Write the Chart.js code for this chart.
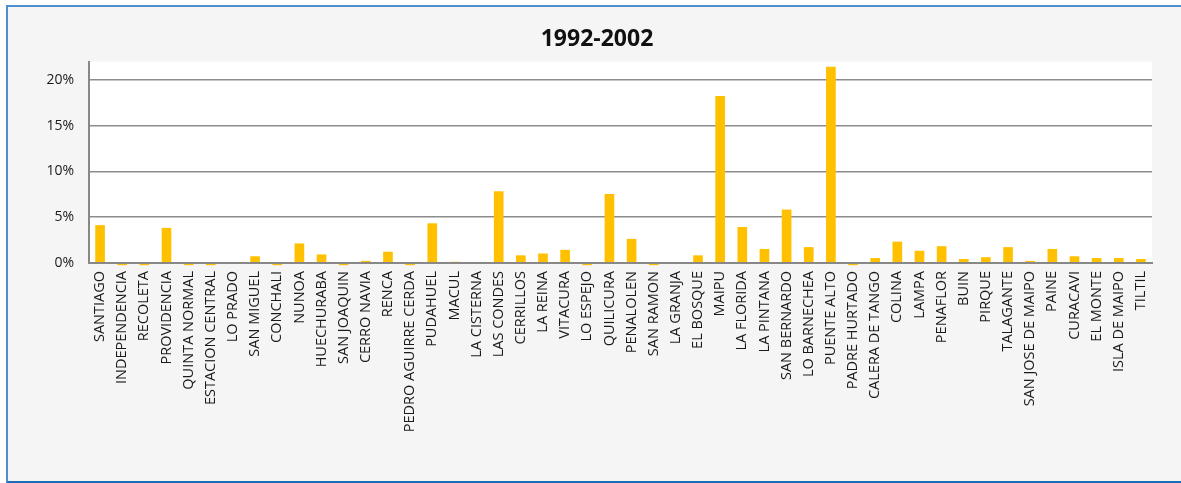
<!DOCTYPE html>
<html>
<head>
<meta charset="utf-8">
<script src="https://cdn.jsdelivr.net/npm/chart.js@4"></script>
<style>
  html, body { margin: 0; padding: 0; background: #ffffff; overflow: hidden; }
  #frame {
    position: absolute; left: 6px; top: 5px;
    width: 1180px; height: 474px;
    border-left: 2px solid #4d8fcd;
    border-top: 2px solid #4d8fcd;
    border-bottom: 3px solid #1a6db8;
    background: #f5f5f5;
  }
  #growth { position: absolute; left: 0; top: 0; }
</style>
</head>
<body>
<div id="frame"></div>
<canvas id="growth" width="1181" height="483"></canvas>
<script>
var comunas = [
  'SANTIAGO', 'INDEPENDENCIA', 'RECOLETA', 'PROVIDENCIA', 'QUINTA NORMAL',
  'ESTACION CENTRAL', 'LO PRADO', 'SAN MIGUEL', 'CONCHALI', 'NUNOA',
  'HUECHURABA', 'SAN JOAQUIN', 'CERRO NAVIA', 'RENCA', 'PEDRO AGUIRRE CERDA',
  'PUDAHUEL', 'MACUL', 'LA CISTERNA', 'LAS CONDES', 'CERRILLOS',
  'LA REINA', 'VITACURA', 'LO ESPEJO', 'QUILICURA', 'PENALOLEN',
  'SAN RAMON', 'LA GRANJA', 'EL BOSQUE', 'MAIPU', 'LA FLORIDA',
  'LA PINTANA', 'SAN BERNARDO', 'LO BARNECHEA', 'PUENTE ALTO', 'PADRE HURTADO',
  'CALERA DE TANGO', 'COLINA', 'LAMPA', 'PENAFLOR', 'BUIN',
  'PIRQUE', 'TALAGANTE', 'SAN JOSE DE MAIPO', 'PAINE', 'CURACAVI',
  'EL MONTE', 'ISLA DE MAIPO', 'TILTIL'
];

// share of growth per comuna, in percent
var share = [
  4.1, -0.2, -0.2, 3.8, -0.2,
  -0.2, 0.0, 0.7, -0.2, 2.1,
  0.9, -0.2, 0.2, 1.2, -0.2,
  4.3, 0.1, 0.0, 7.8, 0.8,
  1.0, 1.4, -0.2, 7.5, 2.6,
  -0.2, 0.0, 0.8, 18.2, 3.9,
  1.5, 5.8, 1.7, 21.4, -0.2,
  0.5, 2.3, 1.3, 1.8, 0.4,
  0.6, 1.7, 0.2, 1.5, 0.7,
  0.5, 0.5, 0.4
];

var yTicks = [0, 5, 10, 15, 20];

// white plot background
var plotBg = {
  id: 'plotBg',
  beforeDraw: function (chart) {
    var a = chart.chartArea, ctx = chart.ctx;
    ctx.save();
    ctx.fillStyle = '#ffffff';
    ctx.fillRect(a.left, a.top, a.right - a.left, a.bottom - a.top);
    ctx.restore();
  }
};

new Chart(document.getElementById('growth'), {
  type: 'bar',
  data: {
    labels: comunas,
    datasets: [{
      data: share,
      backgroundColor: '#ffc000',
      barThickness: 9,
      clip: false
    }]
  },
  options: {
    responsive: false,
    animation: false,
    layout: { padding: { left: 42, right: 29, top: 0, bottom: 0 } },
    plugins: {
      legend: { display: false },
      tooltip: { enabled: false },
      title: {
        display: true,
        text: '1992-2002',
        color: '#111111',
        font: { family: 'Open Sans', size: 23, weight: 'bold' },
        padding: { top: 26, bottom: 8 }
      }
    },
    scales: {
      x: {
        afterFit: function (s) { s.height = 220; },
        grid: { display: false, drawTicks: false },
        border: { display: true, color: '#888888', width: 2, z: 1 },
        ticks: {
          autoSkip: false,
          minRotation: 90,
          maxRotation: 90,
          padding: 8,
          color: '#1a1a1a',
          font: { family: 'Open Sans', size: 14.5 }
        }
      },
      y: {
        min: 0,
        max: 22,
        afterFit: function (s) { s.width = 47; },
        afterBuildTicks: function (s) {
          s.ticks = yTicks.map(function (v) { return { value: v }; });
        },
        grid: { color: '#8c8c8c', lineWidth: 1.5, drawTicks: false },
        border: { display: true, color: '#888888', width: 2, z: 1 },
        ticks: {
          padding: 15,
          color: '#1a1a1a',
          font: { family: 'Open Sans', size: 14 },
          callback: function (v) { return v + '%'; }
        }
      }
    }
  },
  plugins: [plotBg]
});
</script>
</body>
</html>
